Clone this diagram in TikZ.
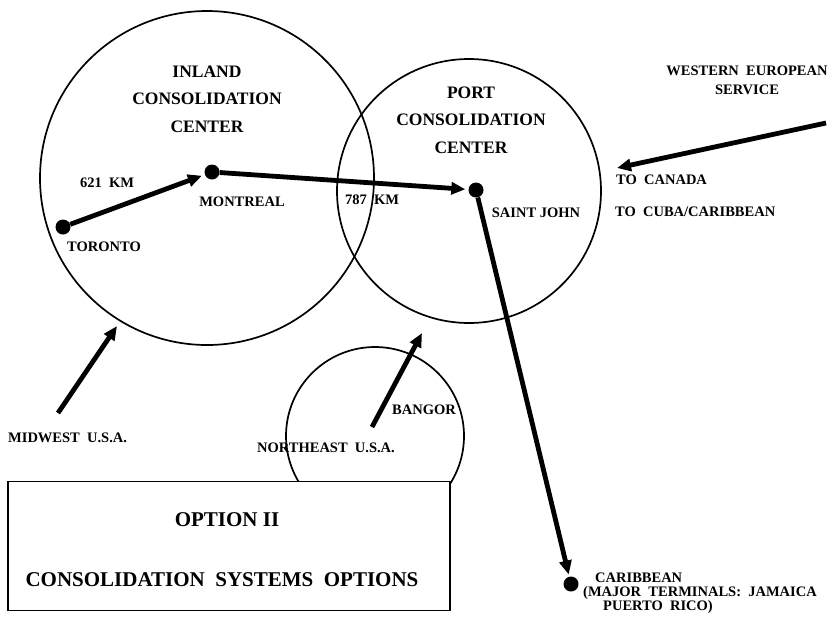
\documentclass[tikz,border=0pt]{standalone}
\usepackage{fontspec}
\setmainfont{Liberation Serif}
\usetikzlibrary{arrows.meta}
\begin{document}
\begin{tikzpicture}[x=1pt,y=-1pt,
  ring/.style={draw,circle,line width=1.7pt,inner sep=0pt},
  dot/.style={circle,fill=black,inner sep=0pt,minimum size=15pt},
  flow/.style={line width=4.8pt,-{Triangle[length=14pt,width=12pt]}},
  head/.style={font=\bfseries\fontsize{17.5}{27.5}\selectfont,align=center,inner sep=0pt},
  lbl/.style={font=\bfseries\fontsize{14.5}{19}\selectfont,inner sep=0pt},
  sml/.style={font=\bfseries\fontsize{14.5}{15}\selectfont,inner sep=0pt},
  big/.style={font=\bfseries\fontsize{21}{24}\selectfont,inner sep=0pt}]
\useasboundingbox (0,0) rectangle (834,622);
% circles
\node[ring,minimum size=334pt] (inland) at (207,178) {};
\node[ring,minimum size=264pt] (port) at (469,191) {};
\node[ring,minimum size=178pt] (bangorc) at (375,436) {};
% option box
\node[draw,line width=1.7pt,fill=white,minimum width=442pt,minimum height=129pt,inner sep=0pt] (box) at (229,546) {};
\node[big] (opt) at (227,520) {OPTION II};
\node[big] (cso) at (222,580) {CONSOLIDATION\ \ SYSTEMS\ \ OPTIONS};
% headings
\node[head] (inlandt) at (207,99) {INLAND\\CONSOLIDATION\\CENTER};
\node[head] (portt) at (471,120) {PORT\\CONSOLIDATION\\CENTER};
% cities
\node[dot] (tor) at (63,227) {};
\node[dot] (mon) at (212,172) {};
\node[dot] (sj) at (476,190) {};
\node[dot] (car) at (571,584) {};
\node[lbl] (tort) at (104,247) {TORONTO};
\node[lbl] (mont) at (242,202) {MONTREAL};
\node[lbl] (sjt) at (536,213) {SAINT JOHN};
\node[lbl] (km1) at (107,183) {621\ \ KM};
\node[lbl] (km2) at (372,200) {787\ \ KM};
% flows
\draw[flow,shorten >=3pt] (tor) -- (mon);
\draw[flow,shorten >=3pt] (mon) -- (sj);
\draw[flow,shorten >=2pt] (sj) -- (car);
% western european
\node[lbl,align=center] (weu) at (747,80) {WESTERN\ \ EUROPEAN\\SERVICE};
\coordinate (we1) at (826,123);
\coordinate (we2) at (617,168);
\draw[flow] (we1) -- (we2);
\node[lbl,anchor=west] (can) at (616,180) {TO\ \ CANADA};
\node[lbl,anchor=west] (cub) at (615,212) {TO\ \ CUBA/CARIBBEAN};
% midwest
\coordinate (mw1) at (58,413);
\coordinate (mw2) at (117,326);
\draw[flow] (mw1) -- (mw2);
\node[lbl,anchor=west] (mwt) at (8,438) {MIDWEST\ \ U.S.A.};
% northeast
\coordinate (ne1) at (372,427);
\coordinate (ne2) at (422,333);
\draw[flow] (ne1) -- (ne2);
\node[lbl] (bang) at (424,410) {BANGOR};
\node[lbl] (net) at (326,448) {NORTHEAST\ \ U.S.A.};
% caribbean
\node[sml,anchor=west] (cart) at (595,578) {CARIBBEAN};
\node[sml,anchor=west] (mjt) at (583,593) {(MAJOR\ \ TERMINALS:\ \ JAMAICA};
\node[sml] (prt) at (658,607) {PUERTO\ \ RICO)};
\end{tikzpicture}
\end{document}
